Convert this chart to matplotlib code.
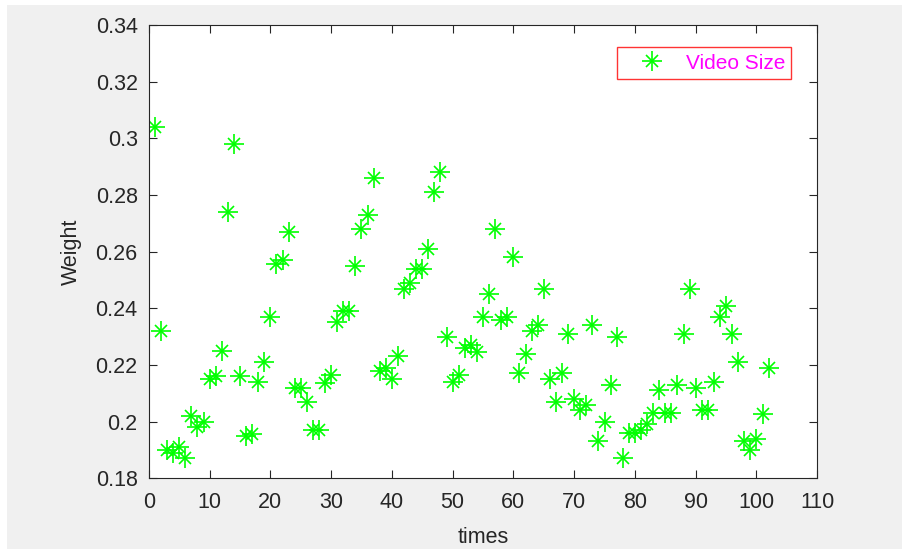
import matplotlib
matplotlib.use("Agg")
import matplotlib.pyplot as plt
from matplotlib.patches import Rectangle
import numpy as np

# Weight per sample (samples 1..102)
weights = [
    0.304, 0.232, 0.190, 0.189, 0.191, 0.187, 0.202, 0.198, 0.200, 0.215,
    0.216, 0.225, 0.274, 0.298, 0.216, 0.195, 0.1955, 0.214, 0.221, 0.237,
    0.2556, 0.257, 0.267, 0.212, 0.212, 0.207, 0.197, 0.197, 0.2135, 0.2165,
    0.235, 0.239, 0.239, 0.255, 0.268, 0.273, 0.286, 0.218, 0.219, 0.215,
    0.223, 0.247, 0.249, 0.254, 0.254, 0.261, 0.281, 0.288, 0.230, 0.214,
    0.2165, 0.226, 0.227, 0.2245, 0.237, 0.245, 0.268, 0.236, 0.237, 0.258,
    0.217, 0.224, 0.232, 0.234, 0.247, 0.215, 0.207, 0.217, 0.231, 0.208,
    0.204, 0.206, 0.234, 0.193, 0.200, 0.213, 0.230, 0.187, 0.196, 0.196,
    0.197, 0.199, 0.203, 0.211, 0.203, 0.203, 0.213, 0.231, 0.247, 0.212,
    0.204, 0.204, 0.214, 0.237, 0.241, 0.231, 0.221, 0.193, 0.190, 0.194,
    0.2025, 0.219,
]
times = np.arange(1, len(weights) + 1)

x_ticks = list(range(0, 111, 10))
y_ticks = [0.18, 0.20, 0.22, 0.24, 0.26, 0.28, 0.30, 0.32, 0.34]
y_tick_labels = ["0.18", "0.2", "0.22", "0.24", "0.26", "0.28", "0.3", "0.32", "0.34"]

plt.rcParams["font.family"] = ["Liberation Sans", "DejaVu Sans"]

fig = plt.figure(figsize=(9.02, 5.49), dpi=100, facecolor="#f0f0f0")
# white strips along the top and left edge, as in the screenshot
fig.patches.append(Rectangle((0, 1 - 5 / 549), 1, 5 / 549, transform=fig.transFigure,
                             facecolor="white", edgecolor="none"))
fig.patches.append(Rectangle((0, 0), 7 / 902, 1, transform=fig.transFigure,
                             facecolor="white", edgecolor="none"))
ax = fig.add_axes([0.165, 0.129, 0.741, 0.825])

# MATLAB-style asterisk: plus + cross on top of each other
plus, = ax.plot(times, weights, linestyle="none", marker="+",
                markersize=14, markeredgewidth=1.2, color="#00ff00")
cross, = ax.plot(times, weights, linestyle="none", marker="x",
                 markersize=9, markeredgewidth=1.2, color="#00ff00")

ax.set_xlim(0, 110)
ax.set_ylim(0.18, 0.34)
ax.set_xticks(x_ticks)
ax.set_yticks(y_ticks)
ax.set_yticklabels(y_tick_labels)
ax.tick_params(direction="in", length=6, top=True, right=True,
               labelsize=15.5, colors="#262626", width=0.8)
ax.tick_params(axis="x", pad=10)
ax.tick_params(axis="y", pad=8)
for sp in ax.spines.values():
    sp.set_color("#262626")
    sp.set_linewidth(0.8)

ax.set_xlabel("times", fontsize=15.5, color="#262626", labelpad=10)
ax.set_ylabel("Weight", fontsize=15.5, color="#262626", labelpad=10)

leg = ax.legend([(plus, cross)], ["Video Size"], loc="upper right",
                bbox_to_anchor=(0.961, 0.951), fontsize=15, frameon=True,
                fancybox=False, edgecolor="red", borderpad=0.3,
                handlelength=2.8, handletextpad=0.2, borderaxespad=0)
leg.get_frame().set_linewidth(1.0)
for t in leg.get_texts():
    t.set_color("magenta")

fig.savefig("out.png", dpi=100, facecolor=fig.get_facecolor())
